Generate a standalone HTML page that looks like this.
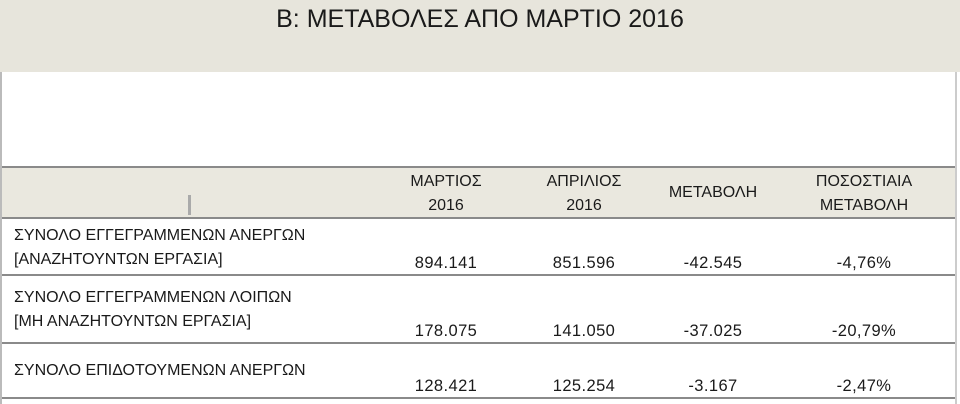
<!DOCTYPE html>
<html><head><meta charset="utf-8"><style>
body{margin:0;width:960px;height:404px;background:#fff;position:relative;overflow:hidden;font-family:"Liberation Sans","DejaVu Sans",sans-serif;color:#1a1a1a}
.a{position:absolute;white-space:nowrap}
.c{transform:translateX(-50%);text-align:center}
.t{font-size:16px;line-height:24px}
.n{font-size:16.5px;letter-spacing:0.4px}
.h{position:absolute;left:2px;width:953px;height:2px;background:#8a8a8a}
</style></head><body>
<div class="a" style="left:0;top:0;width:960px;height:72px;background:#e7e5dc"></div>
<div class="a c" style="left:480px;top:5px;font-size:25px">B: ΜΕΤΑΒΟΛΕΣ ΑΠΟ ΜΑΡΤΙΟ 2016</div>
<div class="a" style="left:0;top:72px;width:2px;height:332px;background:#bbb"></div>
<div class="a" style="left:955px;top:72px;width:2px;height:332px;background:#ccc"></div>
<div class="a" style="left:2px;top:167px;width:953px;height:51px;background:#eae8df"></div>
<div class="a" style="left:188px;top:195px;width:3px;height:20px;background:#aaa"></div>
<div class="h" style="top:166px"></div>
<div class="h" style="top:217px"></div>
<div class="h" style="top:274px"></div>
<div class="h" style="top:342px"></div>
<div class="h" style="top:397px"></div>
<div class="a c t" style="left:446px;top:170px">ΜΑΡΤΙΟΣ<br>2016</div>
<div class="a c t" style="left:584px;top:170px">ΑΠΡΙΛΙΟΣ<br>2016</div>
<div class="a c t" style="left:713px;top:181px">ΜΕΤΑΒΟΛΗ</div>
<div class="a c t" style="left:864px;top:170px">ΠΟΣΟΣΤΙΑΙΑ<br>ΜΕΤΑΒΟΛΗ</div>
<div class="a t" style="left:14px;top:224px">ΣΥΝΟΛΟ ΕΓΓΕΓΡΑΜΜΕΝΩΝ ΑΝΕΡΓΩΝ<br>[ΑΝΑΖΗΤΟΥΝΤΩΝ ΕΡΓΑΣΙΑ]</div>
<div class="a t" style="left:14px;top:286px">ΣΥΝΟΛΟ ΕΓΓΕΓΡΑΜΜΕΝΩΝ ΛΟΙΠΩΝ<br>[ΜΗ ΑΝΑΖΗΤΟΥΝΤΩΝ ΕΡΓΑΣΙΑ]</div>
<div class="a t" style="left:14px;top:359px">ΣΥΝΟΛΟ ΕΠΙΔΟΤΟΥΜΕΝΩΝ ΑΝΕΡΓΩΝ</div>
<div class="a c t n" style="left:446px;top:251px">894.141</div>
<div class="a c t n" style="left:584px;top:251px">851.596</div>
<div class="a c t n" style="left:713px;top:251px">-42.545</div>
<div class="a c t n" style="left:864px;top:251px">-4,76%</div>
<div class="a c t n" style="left:446px;top:319px">178.075</div>
<div class="a c t n" style="left:584px;top:319px">141.050</div>
<div class="a c t n" style="left:713px;top:319px">-37.025</div>
<div class="a c t n" style="left:864px;top:319px">-20,79%</div>
<div class="a c t n" style="left:446px;top:374px">128.421</div>
<div class="a c t n" style="left:584px;top:374px">125.254</div>
<div class="a c t n" style="left:713px;top:374px">-3.167</div>
<div class="a c t n" style="left:864px;top:374px">-2,47%</div>
</body></html>
